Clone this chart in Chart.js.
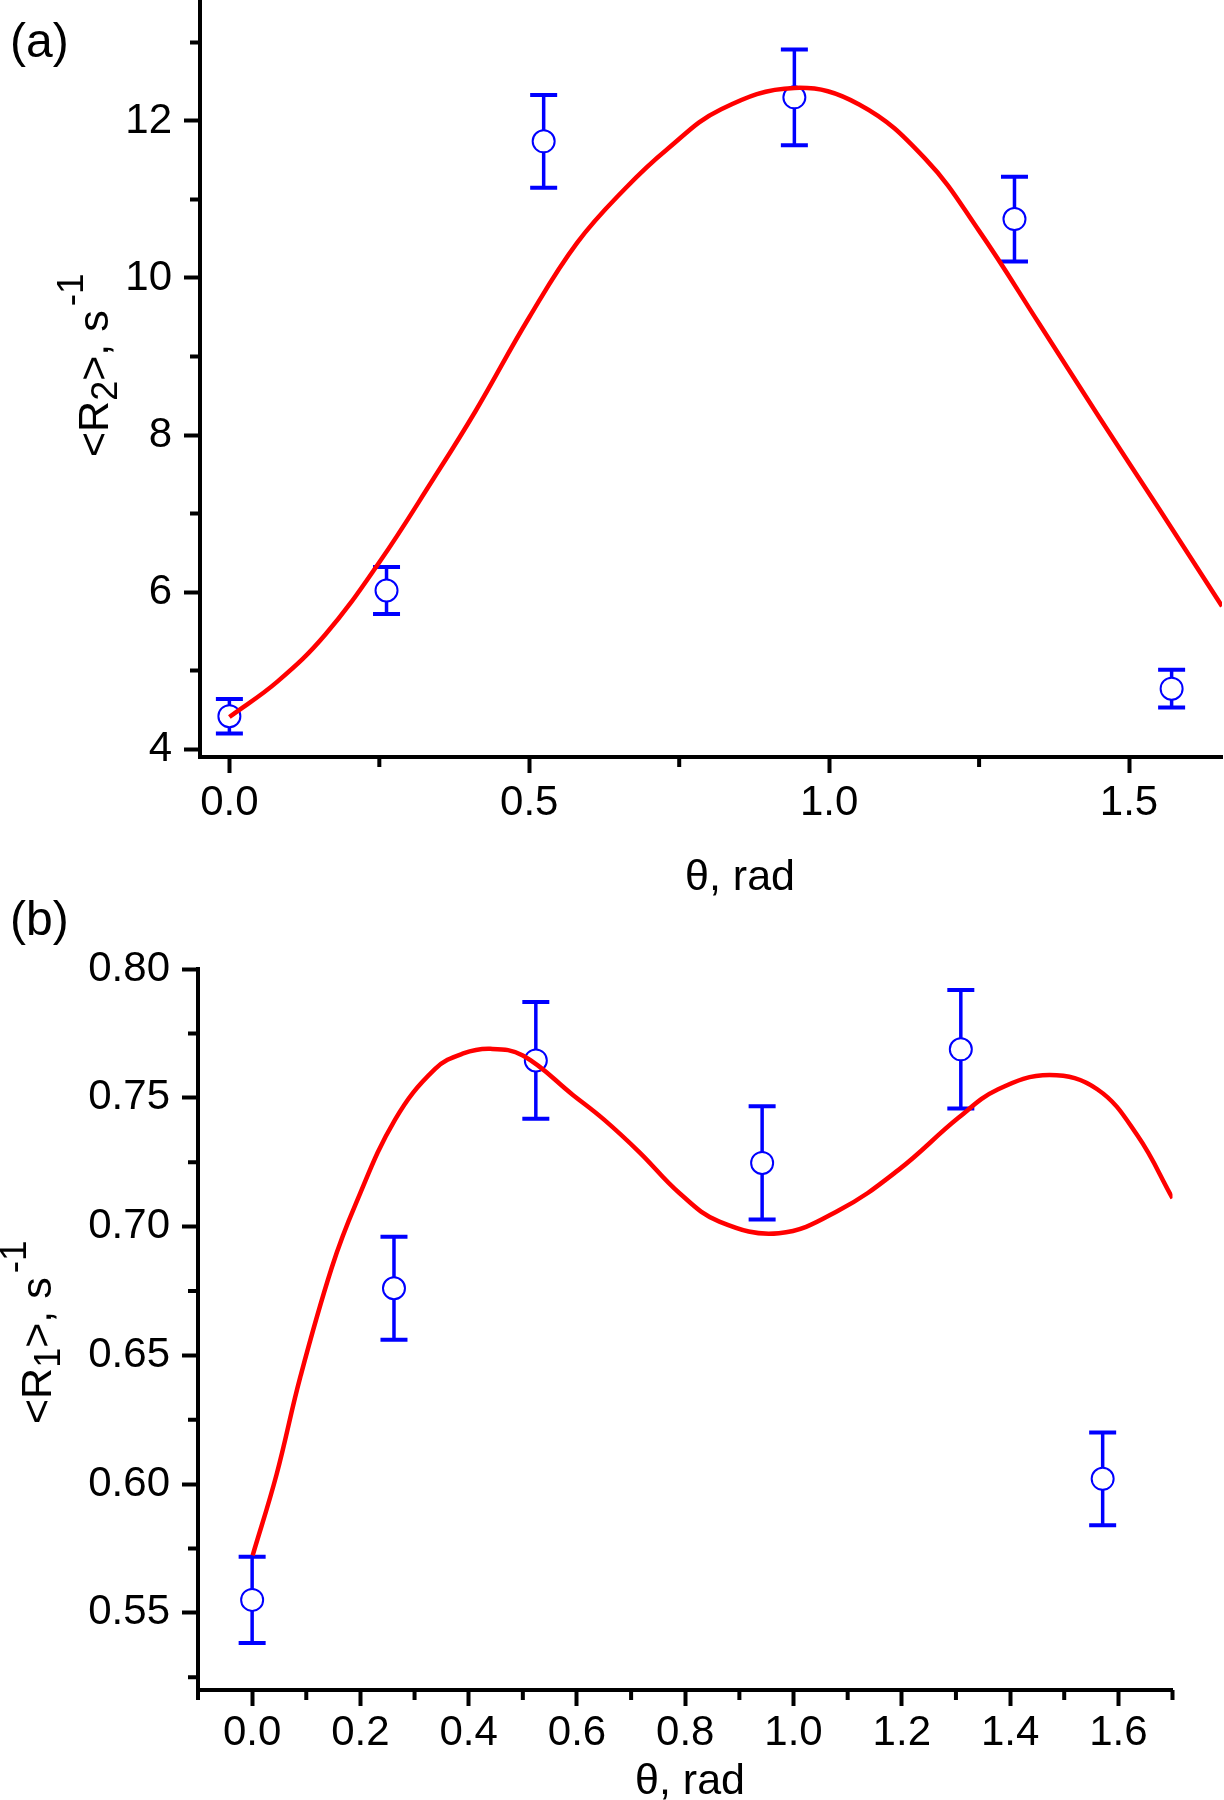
<!DOCTYPE html>
<html>
<head>
<meta charset="utf-8">
<script src="https://cdn.jsdelivr.net/npm/chart.js@4.4.1/dist/chart.umd.min.js"></script>
<style>
  html, body { margin: 0; padding: 0; background: #fff; }
  canvas { display: block; }
</style>
</head>
<body>
<canvas id="chartA" width="1224" height="900"></canvas>
<canvas id="chartB" width="1224" height="900"></canvas>
<script>
// angles of the measured points, rad
const theta = [0, 0.262, 0.524, 0.942, 1.309, 1.571];

// panel (a): <R2>
const r2Values = [4.42, 6.02, 11.74, 12.30, 10.75, 4.77];
const r2Errors = [0.22, 0.30, 0.59, 0.61, 0.54, 0.24];
const r2FitTheta = [0, 0.08, 0.16, 0.25, 0.34, 0.41, 0.5, 0.58, 0.66, 0.73, 0.82, 0.942, 1.05, 1.16, 1.25, 1.35, 1.45, 1.55, 1.655];
const r2FitValues = [4.41, 4.86, 5.46, 6.38, 7.44, 8.30, 9.50, 10.45, 11.14, 11.64, 12.15, 12.42, 12.21, 11.52, 10.60, 9.42, 8.23, 7.06, 5.82];

// panel (b): <R1>
const r1Values = [0.555, 0.676, 0.7645, 0.7247, 0.7688, 0.602];
const r1Errors = [0.0167, 0.020, 0.0227, 0.022, 0.023, 0.018];
const r1FitTheta = [0.001, 0.045, 0.089, 0.147, 0.191, 0.264, 0.338, 0.39, 0.44, 0.5, 0.593, 0.65, 0.716, 0.789, 0.863, 0.973, 1.084, 1.194, 1.304, 1.378, 1.473, 1.561, 1.635, 1.70];
const r1FitValues = [0.5723, 0.6036, 0.6416, 0.684, 0.7086, 0.7415, 0.7612, 0.7672, 0.7690, 0.7664, 0.751, 0.7415, 0.7287, 0.713, 0.7019, 0.6974, 0.7063, 0.722, 0.7421, 0.7533, 0.7588, 0.7533, 0.7354, 0.711];

// ticks
const xTicksA = [0, 0.5, 1.0, 1.5];
const xMinorA = [0.25, 0.75, 1.25];
const yTicksA = [4, 6, 8, 10, 12];
const yMinorA = [5, 7, 9, 11, 13];
const xTicksB = [0, 0.2, 0.4, 0.6, 0.8, 1.0, 1.2, 1.4, 1.6];
const xMinorB = [-0.1, 0.1, 0.3, 0.5, 0.7, 0.9, 1.1, 1.3, 1.5, 1.7];
const yTicksB = [0.55, 0.60, 0.65, 0.70, 0.75, 0.80];
const yMinorB = [0.525, 0.575, 0.625, 0.675, 0.725, 0.775];

const FONT = 'Arial, "Liberation Sans", sans-serif';
const BLUE = '#0000FF';
const RED = '#FF0000';

function drawYTitle(ctx, x, y, sub) {
    ctx.save();
    ctx.translate(x, y);
    ctx.rotate(-Math.PI / 2);
    ctx.fillStyle = '#000';
    ctx.textAlign = 'left';
    ctx.textBaseline = 'alphabetic';
    let cx = 0;
    ctx.font = '43px ' + FONT;
    ctx.fillText('<R', cx, 0);
    cx += ctx.measureText('<R').width;
    ctx.font = '36px ' + FONT;
    ctx.fillText(sub, cx, 9);
    cx += ctx.measureText(sub).width;
    ctx.font = '43px ' + FONT;
    ctx.fillText('>, s', cx, 0);
    cx += ctx.measureText('>, s').width + 4;
    ctx.font = '37px ' + FONT;
    ctx.fillText('-1', cx, -25);
    ctx.restore();
}

// minor ticks, error bars and the texts the library can't lay out this way
const figurePlugin = {
    id: 'figure',
    beforeDatasetsDraw(chart, args, opts) {
        const ctx = chart.ctx;
        const xs = chart.scales.x, ys = chart.scales.y;
        ctx.save();
        ctx.strokeStyle = BLUE;
        opts.values.forEach((v, i) => {
            const px = xs.getPixelForValue(opts.theta[i]);
            const top = ys.getPixelForValue(v + opts.errors[i]);
            const bot = ys.getPixelForValue(v - opts.errors[i]);
            ctx.lineWidth = 3.5;
            ctx.beginPath();
            ctx.moveTo(px, top);
            ctx.lineTo(px, bot);
            ctx.stroke();
            ctx.lineWidth = 4;
            ctx.beginPath();
            ctx.moveTo(px - 13.5, top);
            ctx.lineTo(px + 13.5, top);
            ctx.moveTo(px - 13.5, bot);
            ctx.lineTo(px + 13.5, bot);
            ctx.stroke();
        });
        ctx.restore();
    },
    afterDraw(chart, args, opts) {
        const ctx = chart.ctx;
        const area = chart.chartArea;
        const xs = chart.scales.x, ys = chart.scales.y;
        ctx.save();
        ctx.strokeStyle = '#000';
        ctx.lineWidth = 4;
        ctx.beginPath();
        opts.minorX.forEach(v => {
            const px = xs.getPixelForValue(v);
            ctx.moveTo(px, area.bottom);
            ctx.lineTo(px, area.bottom + 10);
        });
        opts.minorY.forEach(v => {
            const py = ys.getPixelForValue(v);
            ctx.moveTo(area.left - 10, py);
            ctx.lineTo(area.left, py);
        });
        ctx.stroke();

        ctx.fillStyle = '#000';
        ctx.textBaseline = 'alphabetic';
        ctx.textAlign = 'left';
        ctx.font = '48px ' + FONT;
        ctx.fillText(opts.panel, opts.panelPos[0], opts.panelPos[1]);

        ctx.textAlign = 'center';
        ctx.font = '43px ' + FONT;
        ctx.fillText('\u03b8, rad', opts.xTitlePos[0], opts.xTitlePos[1]);

        drawYTitle(ctx, opts.yTitlePos[0], opts.yTitlePos[1], opts.sub);
        ctx.restore();
    }
};

function makeChart(id, cfg) {
    return new Chart(document.getElementById(id), {
        type: 'scatter',
        data: {
            datasets: [{
                label: 'fit',
                data: cfg.fitTheta.map((t, i) => ({ x: t, y: cfg.fitValues[i] })),
                showLine: true,
                borderColor: RED,
                borderWidth: 4.5,
                pointRadius: 0,
                tension: 0.4,
                order: 0
            }, {
                label: 'data',
                data: theta.map((t, i) => ({ x: t, y: cfg.values[i] })),
                pointStyle: 'circle',
                pointRadius: 11,
                borderWidth: 2,
                borderColor: BLUE,
                backgroundColor: '#FFFFFF',
                order: 1
            }]
        },
        options: {
            responsive: false,
            animation: false,
            devicePixelRatio: 1,
            layout: { padding: cfg.padding, autoPadding: false },
            plugins: {
                legend: { display: false },
                tooltip: { enabled: false },
                figure: {
                    theta: theta,
                    values: cfg.values,
                    errors: cfg.errors,
                    minorX: cfg.minorX,
                    minorY: cfg.minorY,
                    panel: cfg.panel,
                    panelPos: cfg.panelPos,
                    xTitlePos: cfg.xTitlePos,
                    yTitlePos: cfg.yTitlePos,
                    sub: cfg.sub
                }
            },
            scales: {
                x: {
                    type: 'linear',
                    position: 'bottom',
                    min: cfg.xRange[0],
                    max: cfg.xRange[1],
                    afterBuildTicks: s => { s.ticks = cfg.xTicks.map(v => ({ value: v })); },
                    afterFit: s => {
                        s.height = cfg.xHeight;
                        s.paddingLeft = s.paddingRight = s.paddingTop = s.paddingBottom = 0;
                    },
                    grid: { drawOnChartArea: false, drawTicks: true, tickLength: 16, tickWidth: 4, tickColor: '#000' },
                    border: { display: true, width: 4, color: '#000' },
                    ticks: {
                        padding: cfg.xPad,
                        color: '#000',
                        maxRotation: 0,
                        autoSkip: false,
                        font: { family: FONT, size: 42 },
                        callback: v => v.toFixed(1)
                    }
                },
                y: {
                    type: 'linear',
                    position: 'left',
                    min: cfg.yRange[0],
                    max: cfg.yRange[1],
                    afterBuildTicks: s => { s.ticks = cfg.yTicks.map(v => ({ value: v })); },
                    afterFit: s => {
                        s.width = cfg.yWidth;
                        s.paddingLeft = s.paddingRight = s.paddingTop = s.paddingBottom = 0;
                    },
                    grid: { drawOnChartArea: false, drawTicks: true, tickLength: 16, tickWidth: 4, tickColor: '#000' },
                    border: { display: true, width: 4, color: '#000' },
                    ticks: {
                        padding: 12,
                        color: '#000',
                        autoSkip: false,
                        font: { family: FONT, size: 42 },
                        callback: v => v.toFixed(cfg.yDigits)
                    }
                }
            }
        },
        plugins: [figurePlugin]
    });
}

makeChart('chartA', {
    fitTheta: r2FitTheta, fitValues: r2FitValues,
    values: r2Values, errors: r2Errors,
    xRange: [-0.049, 1.655], yRange: [3.90, 13.54],
    xTicks: xTicksA, yTicks: yTicksA, minorX: xMinorA, minorY: yMinorA,
    yDigits: 0, xPad: 5,
    xHeight: 143, yWidth: 200,
    padding: { top: 0, right: 2, bottom: 0, left: 0 },
    panel: '(a)', panelPos: [10, 57],
    xTitlePos: [740, 890], yTitlePos: [108, 457], sub: '2'
});

makeChart('chartB', {
    fitTheta: r1FitTheta, fitValues: r1FitValues,
    values: r1Values, errors: r1Errors,
    xRange: [-0.1, 1.7], yRange: [0.52, 0.80],
    xTicks: xTicksB, yTicks: yTicksB, minorX: xMinorB, minorY: yMinorB,
    yDigits: 2, xPad: 2,
    xHeight: 110, yWidth: 198,
    padding: { top: 69, right: 51.5, bottom: 0, left: 0 },
    panel: '(b)', panelPos: [10, 35],
    xTitlePos: [690, 894], yTitlePos: [51, 524], sub: '1'
});
</script>
</body>
</html>
